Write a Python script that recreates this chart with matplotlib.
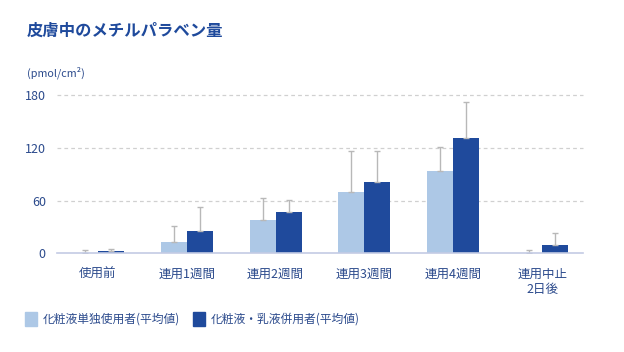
import matplotlib
matplotlib.use('Agg')
import matplotlib.pyplot as plt
from matplotlib.patches import Rectangle
import numpy as np

plt.rcParams['font.family'] = ['Noto Sans CJK JP', 'DejaVu Sans']

categories = ['使用前', '連用1週間', '連用2週間', '連用3週間', '連用4週間', '連用中止\n2日後']
lotion_only = [1, 13.5, 37.5, 70, 94, 1]
lotion_only_err = [3, 17.5, 25.5, 46, 27, 2.5]
lotion_milk = [2.3, 25.5, 47, 81.5, 131, 9.5]
lotion_milk_err = [3, 27.5, 14, 34.5, 41, 13.5]
legend_labels = ['化粧液単独使用者(平均値)', '化粧液・乳液併用者(平均値)']
yticks = [0, 60, 120, 180]

light = '#adc8e6'
dark = '#1f4a9c'
text_col = '#2b4a8c'
title_col = '#1f4a9c'

fig = plt.figure(figsize=(6.24, 3.52), dpi=100)
ax = fig.add_axes([0.0913, 0.280, 0.843, 0.450])

x = np.arange(len(categories))
w = 0.293
err_kw = dict(ecolor='#b8b8b8', elinewidth=1, capsize=2.5, capthick=1)
ax.bar(x - w / 2, lotion_only, w, color=light, yerr=[np.zeros(6), lotion_only_err],
       error_kw=err_kw, zorder=3)
ax.bar(x + w / 2, lotion_milk, w, color=dark, yerr=[np.zeros(6), lotion_milk_err],
       error_kw=err_kw, zorder=3)

ax.set_xlim(-0.46, len(categories) - 1 + 0.46)
ax.set_ylim(0, 180)
ax.set_yticks(yticks)
ax.set_xticks(x)
ax.set_xticklabels(categories, fontsize=9, color=text_col, linespacing=1.25)
ax.set_yticklabels([str(t) for t in yticks], fontsize=9, color=text_col)
ax.tick_params(axis='y', length=0, pad=8)
ax.tick_params(axis='x', length=0, pad=10)
for t in yticks[1:]:
    ax.axhline(t, color='#d0d0d0', lw=0.9, ls=(0, (3, 2.5)), zorder=1, clip_on=False)
for s in ['top', 'right', 'left']:
    ax.spines[s].set_visible(False)
ax.spines['bottom'].set_color('#c3cbe4')
ax.spines['bottom'].set_linewidth(1.2)
ax.spines['bottom'].set_zorder(4)

fig.text(27 / 624, 1 - 31 / 352, '皮膚中のメチルパラベン量', fontsize=11.8, fontweight='bold',
         color=title_col, va='center', ha='left')
fig.text(27 / 624, 1 - 73 / 352, '(pmol/cm²)', fontsize=7.8, color=text_col,
         va='center', ha='left')

# legend
for i, (lbl, col) in enumerate(zip(legend_labels, [light, dark])):
    x0 = [25, 193][i]
    fig.patches.append(Rectangle((x0 / 624, 1 - 326 / 352), 12 / 624, 14 / 352,
                                 transform=fig.transFigure, color=col))
    fig.text((x0 + 18) / 624, 1 - 319.5 / 352, lbl, fontsize=8.5, color=text_col,
             va='center', ha='left')

fig.savefig('out.png', dpi=100)
